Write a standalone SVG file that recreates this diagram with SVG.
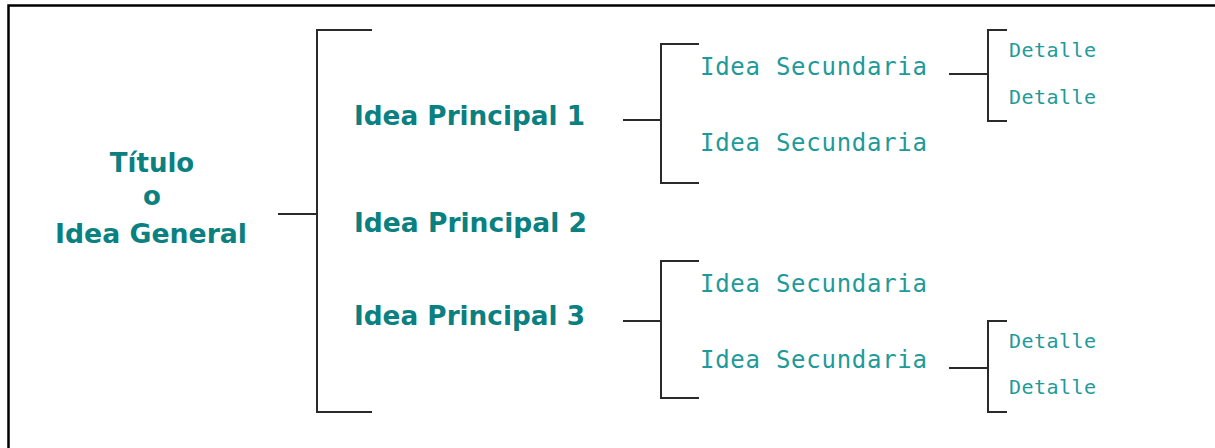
<svg xmlns="http://www.w3.org/2000/svg" width="1215" height="448" viewBox="0 0 1215 448">
<style>
.main{font-family:"DejaVu Sans",sans-serif;font-weight:bold;font-size:26px;fill:#0a8080}
.sec{font-family:"DejaVu Sans Mono",monospace;font-size:24px;fill:#1e9a9a}
.det{font-family:"DejaVu Sans Mono",monospace;font-size:20px;fill:#1e9a9a}
.ln{fill:none;stroke:#2a2a2a;stroke-width:2}
</style>
<rect width="1215" height="448" fill="#fff"/>
<path d="M8.5,448 V5.5 H1215" fill="none" stroke="#000" stroke-width="2.5"/>
<g id="connectors">
<path class="ln" d="M278,214 H317 M372,30 H317 V412 H372"/>
<path class="ln" d="M623,120 H661 M699,44 H661 V183 H699"/>
<path class="ln" d="M949,74 H988 M1007,30 H988 V121 H1007"/>
<path class="ln" d="M623,321 H661 M699,261 H661 V398 H699"/>
<path class="ln" d="M949,368 H988 M1007,321 H988 V412 H1007"/>
</g>
<g id="titulo">
<text class="main" text-anchor="middle" x="152" y="172">Título</text>
<text class="main" text-anchor="middle" x="152" y="205">o</text>
<text class="main" text-anchor="middle" x="151" y="243" textLength="192" lengthAdjust="spacingAndGlyphs">Idea General</text>
</g>
<g id="ip1"><text class="main" x="354" y="125" textLength="231" lengthAdjust="spacingAndGlyphs">Idea Principal 1</text></g>
<g id="ip2"><text class="main" x="354" y="232" textLength="233" lengthAdjust="spacingAndGlyphs">Idea Principal 2</text></g>
<g id="ip3"><text class="main" x="354" y="325" textLength="231" lengthAdjust="spacingAndGlyphs">Idea Principal 3</text></g>
<g id="is1"><text class="sec" x="700" y="75" textLength="227" lengthAdjust="spacing">Idea Secundaria</text></g>
<g id="is2"><text class="sec" x="700" y="151" textLength="227" lengthAdjust="spacing">Idea Secundaria</text></g>
<g id="is3"><text class="sec" x="700" y="292" textLength="227" lengthAdjust="spacing">Idea Secundaria</text></g>
<g id="is4"><text class="sec" x="700" y="368" textLength="227" lengthAdjust="spacing">Idea Secundaria</text></g>
<g id="d1"><text class="det" x="1009" y="57" textLength="87" lengthAdjust="spacing">Detalle</text></g>
<g id="d2"><text class="det" x="1009" y="104" textLength="87" lengthAdjust="spacing">Detalle</text></g>
<g id="d3"><text class="det" x="1009" y="348" textLength="87" lengthAdjust="spacing">Detalle</text></g>
<g id="d4"><text class="det" x="1009" y="394" textLength="87" lengthAdjust="spacing">Detalle</text></g>
</svg>
